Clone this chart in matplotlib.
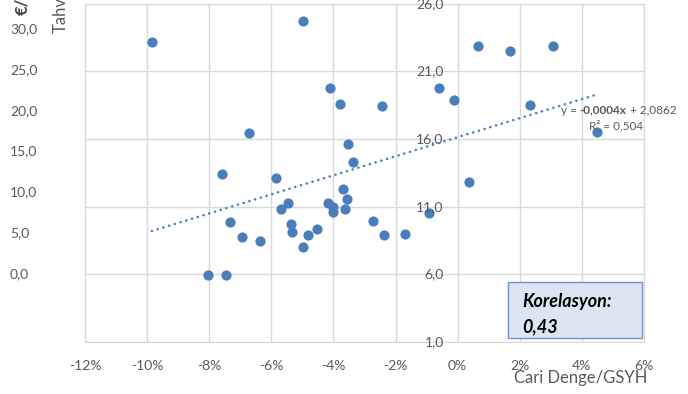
import numpy as np
import matplotlib
matplotlib.use("Agg")
import matplotlib.pyplot as plt
from matplotlib.patches import Rectangle
from matplotlib.ticker import FuncFormatter

plt.rcParams['font.family'] = ['Lato', 'DejaVu Sans']

# Data (x: current account / GDP in %, y: right axis)
cari_denge = [-9.85, -4.99, -6.72, -7.59, -5.85, -5.45, -5.68, -5.37, -5.33, -4.82,
              -4.97, -7.34, -6.94, -6.37, -8.04, -7.47, -4.54, -4.17, -4.02, -4.02,
              -3.68, -3.56, -3.64, -2.74, -2.36, -1.69, -0.91, 0.36, -4.12, -3.79,
              -2.44, -3.54, -3.36, -0.59, -0.13, 0.65, 1.68, 3.07, 2.32, 4.48]
tahvil = [23.17, 24.71, 16.47, 13.41, 13.12, 11.27, 10.82, 9.74, 9.10, 8.91,
          8.03, 9.84, 8.75, 8.46, 5.94, 5.92, 9.37, 11.29, 10.99, 10.58,
          12.30, 11.58, 10.84, 9.93, 8.92, 9.00, 10.53, 12.80, 19.79, 18.61,
          18.42, 15.61, 14.32, 19.79, 18.86, 22.88, 22.49, 22.88, 18.51, 16.52]

x_ticks = [-12, -10, -8, -6, -4, -2, 0, 2, 4, 6]
right_ticks = [1, 6, 11, 16, 21, 26]
left_ticks = [0, 5, 10, 15, 20, 25, 30]
korelasyon = "0,43"
trend_text = ["y = ", "-0,0004x", " + 2,0862"]
r2_text = "R² = 0,504"

blue = "#4a7ebb"
grid = "#d9d9d9"
gray = "#595959"

fig = plt.figure(figsize=(6.88, 3.94), dpi=100)
W, H = 688, 394
ax = fig.add_axes([85 / W, (H - 342) / H, (644 - 85) / W, (342 - 3.8) / H])

ax.set_xlim(-12, 6)
ax.set_ylim(1, 26)
ax.set_xticks(x_ticks)
ax.set_yticks(right_ticks)
ax.grid(True, color=grid, linewidth=1)
ax.set_axisbelow(True)
for s in ax.spines.values():
    s.set_color(grid)
ax.tick_params(length=0, labelsize=10, colors=gray, pad=13)
ax.tick_params(axis="y", labelleft=False)
ax.xaxis.set_major_formatter(FuncFormatter(lambda v, p: f"{v:.0f}%"))

# right-axis values drawn beside the 0% line
for t in right_ticks:
    ax.annotate(f"{t:.1f}".replace(".", ","), xy=(0, t), xytext=(-14, 0),
                textcoords="offset pixels", ha="right", va="center",
                fontsize=10, color=gray, annotation_clip=False)

# trend line
x = np.array(cari_denge)
y = np.array(tahvil)
k, b = np.polyfit(x, y, 1)
xs = np.array([x.min(), x.max()])
ax.plot(xs, k * xs + b, color=blue, linewidth=1.8, linestyle=(0, (0.1, 2.3)),
        dash_capstyle="round", zorder=3)

ax.scatter(x, y, s=54, color=blue, zorder=2, linewidths=0)

# trend equation with bold slope
t1 = ax.text(561 / W, (H - 110) / H, trend_text[0], transform=fig.transFigure,
             fontsize=8.5, color=gray, va="center", ha="left")
t2 = ax.annotate(trend_text[1], xy=(1, 0), xycoords=t1, va="bottom", ha="left",
                 fontsize=8.5, color=gray, fontweight="bold")
t3 = ax.annotate(trend_text[2], xy=(1, 0), xycoords=t2, va="bottom", ha="left",
                 fontsize=8.5, color=gray)
fig.text(616 / W, (H - 126) / H, r2_text, fontsize=8.5, color=gray,
         ha="center", va="center")

# left axis (other series scale), labels only
ax_l = ax.twinx()
ax_l.yaxis.tick_left()
ax_l.set_ylim(-8.45, 32.97)
ax_l.set_yticks(left_ticks)
ax_l.yaxis.set_major_formatter(FuncFormatter(lambda v, p: f"{v:.1f}".replace(".", ",")))
ax_l.tick_params(length=0, labelsize=10, colors=gray, pad=54)
for lab in ax_l.get_yticklabels():
    lab.set_horizontalalignment("left")
for s in ax_l.spines.values():
    s.set_visible(False)

# cut-off axis titles
fig.text(61 / W, (H - 33) / H, "Tahvil", rotation=90, fontsize=12, color=gray,
         ha="center", va="bottom")
fig.text(22 / W, (H - 15) / H, "€/", rotation=90, fontsize=12, color="#404040",
         fontweight="bold", ha="center", va="bottom")

fig.text(581 / W, (H - 378) / H, "Cari Denge/GSYH", fontsize=12, color=gray,
         ha="center", va="center")

# correlation box
fig.add_artist(Rectangle((508 / W, (H - 338) / H), 134 / W, 56 / H,
                         transform=fig.transFigure, facecolor="#dce6f2",
                         edgecolor="#6f93c6", linewidth=1, zorder=5))
fig.text(522 / W, (H - 307) / H, "Korelasyon:", fontsize=13, fontweight="bold",
         fontstyle="italic", color="black", zorder=6)
fig.text(522 / W, (H - 332) / H, korelasyon, fontsize=13, fontweight="bold",
         fontstyle="italic", color="black", zorder=6)

fig.savefig("out.png", dpi=100)
